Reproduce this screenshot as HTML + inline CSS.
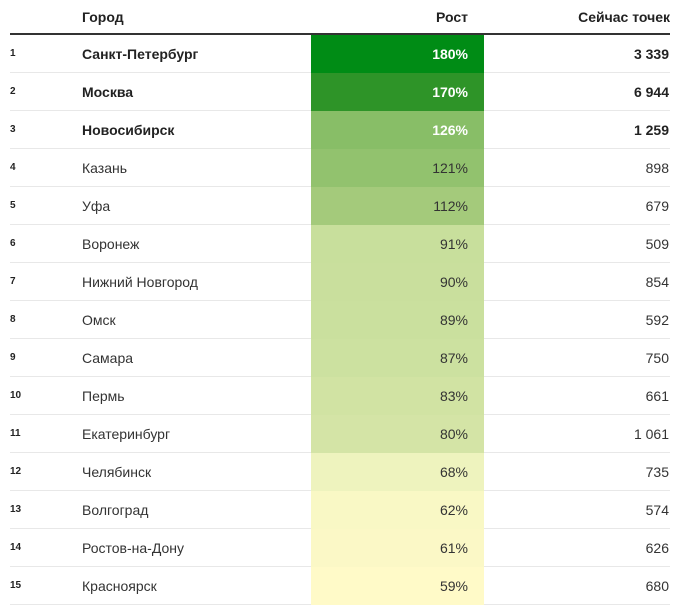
<!DOCTYPE html>
<html><head><meta charset="utf-8">
<style>
body{margin:0;background:#fff;width:682px;height:611px;overflow:hidden;font-family:"Liberation Sans",sans-serif;color:#333;}
#t{position:relative;width:682px;height:611px;}
.h{position:absolute;top:9px;font-size:14px;font-weight:bold;color:#222;}
.hr{position:absolute;left:10px;width:660px;top:33px;height:2px;background:#333;}
.row{position:absolute;left:10px;width:660px;height:38px;border-bottom:1px solid #e8e8e8;box-sizing:border-box;}
.n{position:absolute;left:0;top:13px;font-size:10px;font-weight:bold;color:#222;}
.c{position:absolute;left:72px;top:11px;font-size:14px;}
.g{position:absolute;left:301px;width:173px;top:0;height:38px;}
.g span{position:absolute;right:16px;top:11px;font-size:14px;}
.v{position:absolute;right:1px;top:11px;font-size:14px;}
.b{font-weight:bold;color:#222;}
</style></head><body>
<div id="t">
<div class="h" style="left:82px">Город</div>
<div class="h" style="right:214px">Рост</div>
<div class="h" style="right:12px">Сейчас точек</div>
<div class="hr"></div>
</div>
<script>
const cities=["Санкт-Петербург","Москва","Новосибирск","Казань","Уфа","Воронеж","Нижний Новгород","Омск","Самара","Пермь","Екатеринбург","Челябинск","Волгоград","Ростов-на-Дону","Красноярск"];
const growth=[180,170,126,121,112,91,90,89,87,83,80,68,62,61,59];
const points=[3339,6944,1259,898,679,509,854,592,750,661,1061,735,574,626,680];
const stops=[[59,[255,250,200]],[68,[238,243,190]],[80,[212,228,166]],[91,[200,223,156]],[112,[164,202,123]],[126,[136,190,103]],[170,[46,148,40]],[180,[0,140,21]]];
function color(v){
  if(v<=stops[0][0])return 'rgb('+stops[0][1]+')';
  for(let i=1;i<stops.length;i++){if(v<=stops[i][0]){const a=stops[i-1],b=stops[i];const t=(v-a[0])/(b[0]-a[0]);return 'rgb('+a[1].map((x,k)=>Math.round(x+(b[1][k]-x)*t)).join(',')+')';}}
  return 'rgb('+stops[stops.length-1][1]+')';
}
function fmt(n){return String(n).replace(/\B(?=(\d{3})+(?!\d))/g,' ');}
const T=document.getElementById('t');
cities.forEach((c,i)=>{
  const r=document.createElement('div');r.className='row';r.style.top=(35+i*38)+'px';
  
  
  const bold=i<3?' b':'';
  const n=document.createElement('div');n.className='n';n.textContent=i+1;
  
  
  const cc=document.createElement('div');cc.className='c'+bold;cc.textContent=c;
  
  
  const g=document.createElement('div');g.className='g';g.style.background=color(growth[i]);
  
  
  const s=document.createElement('span');s.textContent=growth[i]+'%';
  if(growth[i]>=150){s.style.color='#fff';s.style.fontWeight='bold';}else if(i<3){s.style.fontWeight='bold';s.style.color='#fff';}
  g.appendChild(s);
  const v=document.createElement('div');v.className='v'+bold;v.textContent=fmt(points[i]);
  
  
  r.append(n,cc,g,v);T.appendChild(r);
});
</script>
</body></html>
